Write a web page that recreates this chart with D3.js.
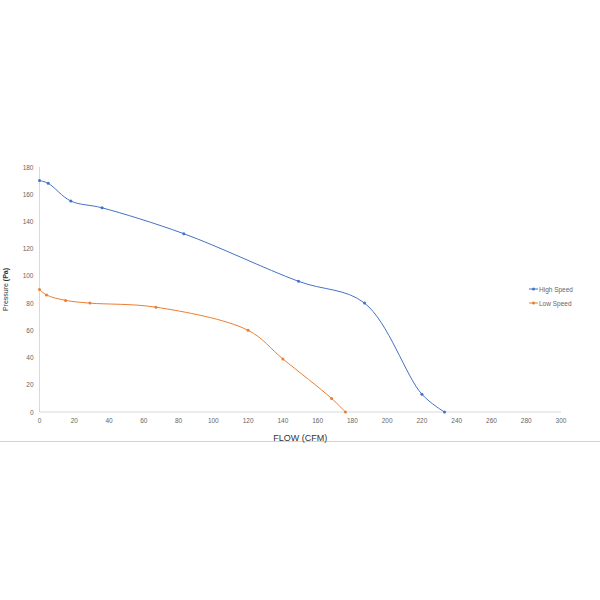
<!DOCTYPE html>
<html><head><meta charset="utf-8">
<script src="https://cdn.jsdelivr.net/npm/d3@7"></script>
<style>body{margin:0;background:#fff}</style>
</head><body>
<script>
var highFlow=[0,5,18,36,83,149,187,220,233];
var highPressure=[170,168,155,150,131,96,80,13,0];
var lowFlow=[0,4,15,29,67,120,140,168,176];
var lowPressure=[90,86,82,80,77,60,39,10,0];
var xTicks=d3.range(0,301,20);
var yTicks=d3.range(0,181,20);
var seriesNames=["High Speed","Low Speed"];
var colors=["#4472c4","#ed7d31"];

var svg=d3.select("body").append("svg").attr("width",600).attr("height",600);
var x=d3.scaleLinear().domain([0,300]).range([39.5,561]);
var y=d3.scaleLinear().domain([0,180]).range([412,167]);

svg.append("line").attr("x1",0).attr("x2",600).attr("y1",441.5).attr("y2",441.5)
  .style("stroke","#d0d4d8").attr("stroke-width",1);
svg.append("line").attr("x1",x(0)).attr("x2",x(300)).attr("y1",y(0)).attr("y2",y(0))
  .style("stroke","#d9d9d9");
svg.append("line").attr("x1",x(0)).attr("x2",x(0)).attr("y1",y(0)).attr("y2",y(180))
  .style("stroke","#d9d9d9");

svg.selectAll(".xt").data(xTicks).enter().append("text")
  .attr("x",function(d){return x(d)}).attr("y",y(0)+11)
  .attr("text-anchor","middle").attr("font-family","Liberation Sans, Arial").attr("font-size",6.5)
  .attr("fill","#666").text(function(d){return d});
svg.selectAll(".yt").data(yTicks).enter().append("text")
  .attr("x",x(0)-6).attr("y",function(d){return y(d)+2.5})
  .attr("text-anchor","end").attr("font-family","Liberation Sans, Arial").attr("font-size",6.5)
  .attr("fill","#666").text(function(d){return d});

svg.append("text").attr("x",x(150)).attr("y",441).attr("text-anchor","middle")
  .attr("font-family","Liberation Sans, Arial").attr("font-size",9).attr("fill","#333").text("FLOW (CFM)");
var yl=svg.append("text").attr("transform","translate(8,"+y(90)+") rotate(-90)").attr("text-anchor","middle")
  .attr("font-family","Liberation Sans, Arial").attr("font-size",7).attr("fill","#333");
yl.append("tspan").text("Pressure ");
yl.append("tspan").attr("font-weight","bold").text("(Pa)");

var line=d3.line().x(function(d){return x(d[0])}).y(function(d){return y(d[1])}).curve(d3.curveCatmullRom.alpha(0.5));
var series=[d3.zip(highFlow,highPressure),d3.zip(lowFlow,lowPressure)];
series.forEach(function(s,i){
  svg.append("path").datum(s).attr("d",line).attr("fill","none").style("stroke",colors[i]).attr("stroke-width",1);
  svg.selectAll(".p"+i).data(s).enter().append("circle")
    .attr("cx",function(d){return x(d[0])}).attr("cy",function(d){return y(d[1])})
    .attr("r",1.5).style("fill",colors[i]);
  var ly=289+i*14;
  svg.append("line").attr("x1",529).attr("x2",538).attr("y1",ly).attr("y2",ly).style("stroke",colors[i]);
  svg.append("circle").attr("cx",533.5).attr("cy",ly).attr("r",1.5).style("fill",colors[i]);
  svg.append("text").attr("x",539).attr("y",ly+2.5).attr("font-family","Liberation Sans, Arial")
    .attr("font-size",6.5).attr("fill","#666").text(seriesNames[i]);
});
</script>
</body></html>
